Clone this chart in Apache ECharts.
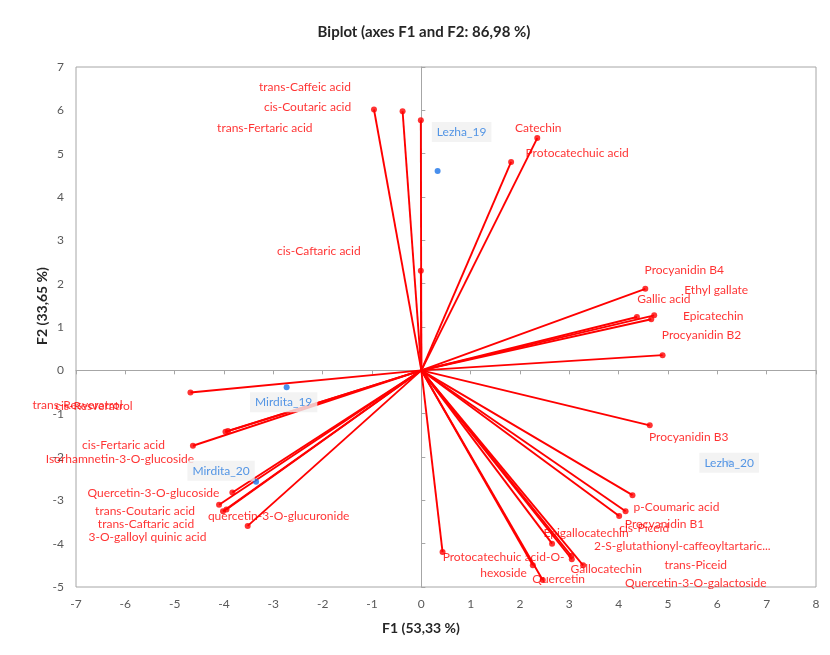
<!DOCTYPE html>
<html>
<head>
<meta charset="utf-8">
<script src="https://cdn.jsdelivr.net/npm/echarts@6/dist/echarts.min.js"></script>
<style>
html,body{margin:0;padding:0;background:#fff;}
#chart{width:830px;height:655px;}
</style>
</head>
<body>
<div id="chart"></div>
<script>
// ---- Data (variables = red vectors, observations = blue points) ----
var varNames = [
  "trans-Caffeic acid", "cis-Coutaric acid", "trans-Fertaric acid", "cis-Caftaric acid",
  "Catechin", "Protocatechuic acid",
  "Procyanidin B4", "Gallic acid", "Ethyl gallate", "Epicatechin", "Procyanidin B2", "Procyanidin B3",
  "p-Coumaric acid", "Procyanidin B1", "cis-Piceid", "Epigallocatechin",
  "2-S-glutathionyl-caffeoyltartaric...", "trans-Piceid", "Gallocatechin", "Quercetin",
  "Quercetin-3-O-galactoside", "Protocatechuic acid-O-\nhexoside",
  "trans-Resveratrol", "cis-Resveratrol", "cis-Fertaric acid", "Isorhamnetin-3-O-glucoside",
  "Quercetin-3-O-glucoside", "trans-Coutaric acid", "trans-Caftaric acid", "3-O-galloyl quinic acid",
  "quercetin-3-O-glucuronide"
];
var varX = [
  -0.96, -0.38, -0.01, -0.01,
  2.35, 1.82,
  4.54, 4.37, 4.72, 4.66, 4.89, 4.63,
  4.28, 4.14, 4.01, 2.65,
  3.04, 3.05, 3.28, 2.46,
  2.26, 0.43,
  -4.68, -3.92, -3.97, -4.63,
  -3.83, -4.10, -4.02, -3.95,
  -3.52
];
var varY = [
  6.02, 5.98, 5.77, 2.30,
  5.36, 4.81,
  1.88, 1.23, 1.27, 1.18, 0.35, -1.27,
  -2.88, -3.25, -3.36, -4.00,
  -4.28, -4.36, -4.50, -4.84,
  -4.50, -4.19,
  -0.51, -1.40, -1.42, -1.74,
  -2.82, -3.10, -3.25, -3.21,
  -3.59
];

var obsNames = ["Lezha_19", "Mirdita_19", "Mirdita_20", "Lezha_20"];
var obsX = [0.33, -2.73, -3.35, 6.24];
var obsY = [4.60, -0.39, -2.57, -2.13];

var xTicks = {min: -7, max: 8, step: 1};
var yTicks = {min: -5, max: 7, step: 1};

var titleText = "Biplot (axes F1 and F2: 86,98 %)";
var xName = "F1 (53,33 %)";
var yName = "F2 (33,65 %)";

// ---- Label placement (pixel offsets from each point; styling only) ----
var varLabelOffset = {
  "trans-Caffeic acid": [-69, -22],
  "cis-Coutaric acid": [-95, -4],
  "trans-Fertaric acid": [-156, 8],
  "cis-Caftaric acid": [-102, -20],
  "Catechin": [1, -10],
  "Protocatechuic acid": [66, -9],
  "Procyanidin B4": [39, -19],
  "Gallic acid": [27, -18],
  "Ethyl gallate": [62, -25],
  "Epicatechin": [62, -3],
  "Procyanidin B2": [39, -20],
  "Procyanidin B3": [39, 12],
  "p-Coumaric acid": [44, 12],
  "Procyanidin B1": [39, 13],
  "cis-Piceid": [25, 12],
  "Epigallocatechin": [34, -11],
  "2-S-glutathionyl-caffeoyltartaric...": [111, -10],
  "trans-Piceid": [124, 6],
  "Gallocatechin": [23, 4],
  "Quercetin": [16, -1],
  "Quercetin-3-O-galactoside": [163, 18],
  "Protocatechuic acid-O-\nhexoside": [61, 13],
  "trans-Resveratrol": [-113, 13],
  "cis-Resveratrol": [-134, -25],
  "cis-Fertaric acid": [-102, 13],
  "Isorhamnetin-3-O-glucoside": [-73, 13],
  "Quercetin-3-O-glucoside": [-79, 1],
  "trans-Coutaric acid": [-74, 6],
  "trans-Caftaric acid": [-77, 13],
  "3-O-galloyl quinic acid": [-79, 28],
  "quercetin-3-O-glucuronide": [31, -10]
};
var obsLabelOffset = {
  "Lezha_19": [24, -39],
  "Mirdita_19": [-3, 15],
  "Mirdita_20": [-35, -11],
  "Lezha_20": [0, 0]
};

var FONT = "Lato, 'Liberation Sans', sans-serif";

var vectorLines = varNames.map(function (n, i) {
  return {coords: [[0, 0], [varX[i], varY[i]]]};
});
var varPoints = varNames.map(function (n, i) {
  var off = varLabelOffset[n] || [0, 0];
  return {
    name: n,
    value: [varX[i], varY[i]],
    label: {offset: off}
  };
});
var obsPoints = obsNames.map(function (n, i) {
  var off = obsLabelOffset[n] || [0, 0];
  return {
    name: n,
    value: [obsX[i], obsY[i]],
    label: {offset: off}
  };
});

var axisLabelStyle = {color: '#595959', fontSize: 12, fontFamily: FONT};

var chart = echarts.init(document.getElementById('chart'), null, {renderer: 'canvas'});
chart.setOption({
  animation: false,
  backgroundColor: '#ffffff',
  graphic: [
    {
      type: 'text',
      x: 424, y: 32,
      style: {
        text: titleText,
        fill: '#262626',
        font: 'bold 15px ' + FONT,
        textAlign: 'center',
        textVerticalAlign: 'middle'
      }
    },
    {
      type: 'text',
      x: 421, y: 628,
      style: {
        text: xName,
        fill: '#262626',
        font: 'bold 14px ' + FONT,
        textAlign: 'center',
        textVerticalAlign: 'middle'
      }
    },
    {
      type: 'text',
      x: 42, y: 306,
      rotation: Math.PI / 2,
      style: {
        text: yName,
        fill: '#262626',
        font: 'bold 14px ' + FONT,
        textAlign: 'center',
        textVerticalAlign: 'middle'
      }
    }
  ],
  grid: {
    left: 76, right: 14, top: 67, bottom: 68,
    show: true, borderColor: '#a6a6a6', borderWidth: 1, backgroundColor: 'transparent'
  },
  xAxis: [
    {
      type: 'value', min: xTicks.min, max: xTicks.max, interval: xTicks.step,
      position: 'bottom',
      axisLine: {show: false, onZero: false},
      axisTick: {show: false},
      splitLine: {show: false},
      axisLabel: Object.assign({margin: 11}, axisLabelStyle)
    },
    {
      type: 'value', min: xTicks.min, max: xTicks.max, interval: xTicks.step,
      position: 'top',
      axisLine: {show: true, onZero: true, onZeroAxisIndex: 0, lineStyle: {color: '#a6a6a6', width: 1}},
      axisTick: {show: true, inside: true, length: 4, lineStyle: {color: '#a6a6a6'}},
      axisLabel: {show: false},
      splitLine: {show: false}
    }
  ],
  yAxis: [
    {
      type: 'value', min: yTicks.min, max: yTicks.max, interval: yTicks.step,
      position: 'left',
      axisLine: {show: false, onZero: false},
      axisTick: {show: false},
      splitLine: {show: false},
      axisLabel: Object.assign({margin: 12}, axisLabelStyle)
    },
    {
      type: 'value', min: yTicks.min, max: yTicks.max, interval: yTicks.step,
      position: 'right',
      axisLine: {show: true, onZero: true, onZeroAxisIndex: 0, lineStyle: {color: '#a6a6a6', width: 1}},
      axisTick: {show: true, inside: false, length: 4, lineStyle: {color: '#a6a6a6'}},
      axisLabel: {show: false},
      splitLine: {show: false}
    }
  ],
  series: [
    {
      type: 'lines',
      coordinateSystem: 'cartesian2d',
      xAxisIndex: 0, yAxisIndex: 0,
      silent: true,
      z: 3,
      lineStyle: {color: '#ff0000', width: 1.9, opacity: 1, curveness: 0},
      data: vectorLines
    },
    {
      type: 'scatter',
      xAxisIndex: 0, yAxisIndex: 0,
      z: 4,
      symbol: 'circle',
      symbolSize: 6,
      itemStyle: {color: '#ff0000'},
      label: {
        show: true,
        position: 'inside',
        formatter: '{b}',
        align: 'center',
        verticalAlign: 'middle',
        color: '#ff0000',
        fontSize: 12,
        lineHeight: 16,
        fontFamily: FONT
      },
      data: varPoints
    },
    {
      type: 'scatter',
      xAxisIndex: 0, yAxisIndex: 0,
      z: 5,
      symbol: 'circle',
      symbolSize: 6,
      itemStyle: {color: '#1a73e8'},
      label: {
        show: true,
        position: 'inside',
        formatter: '{b}',
        align: 'center',
        verticalAlign: 'middle',
        color: '#2a7de1',
        fontSize: 12,
        fontFamily: FONT,
        backgroundColor: '#f0f0f0',
        padding: [4, 5, 4, 5]
      },
      data: obsPoints
    }
  ]
});
</script>
</body>
</html>
